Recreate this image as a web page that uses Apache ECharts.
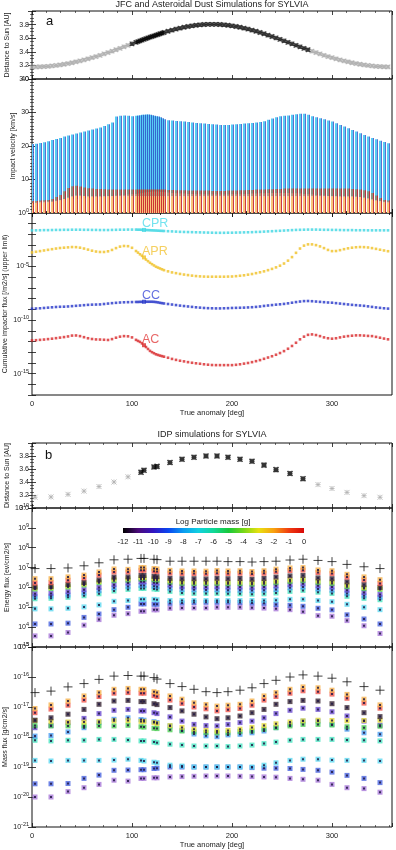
<!DOCTYPE html>
<html><head><meta charset="utf-8">
<script src="https://cdn.jsdelivr.net/npm/echarts@6/dist/echarts.min.js"></script>
<style>html,body{margin:0;padding:0;background:#fff}#c{width:396px;height:850px}</style>
</head><body><div id="c"></div>
<script>
// ---------------- DATA: panel a (JFC & asteroidal dust) ----------------
const X_A = [0,4,8,12,16,20,24,28,32,36,40,44,48,52,56,60,64,68,72,76,80,84,88,92,96,100,104,
  106,108,110,112,114,116,118,120,122,124,126,128,130,132,
  136,140,144,148,152,156,160,164,168,172,176,180,184,188,192,196,200,204,208,212,216,220,224,228,232,236,240,244,248,252,256,260,264,268,272,276,280,284,288,292,296,300,304,308,312,316,320,324,328,332,336,340,344,348,352,356];
const DIST_A = [3.176,3.177,3.179,3.182,3.186,3.192,3.199,3.207,3.217,3.227,3.239,3.252,3.265,3.280,3.296,3.313,3.330,3.349,3.368,3.388,3.409,3.430,3.451,3.473,3.495,3.517,3.539,
  3.550,3.561,3.572,3.583,3.594,3.604,3.615,3.625,3.635,3.645,3.655,3.665,3.675,3.684,
  3.702,3.718,3.734,3.748,3.761,3.772,3.782,3.790,3.796,3.801,3.804,3.804,3.804,3.801,3.796,3.790,3.782,3.772,3.761,3.748,3.734,3.718,3.702,3.684,3.665,3.645,3.625,3.604,3.583,3.561,3.539,3.517,3.495,3.473,3.451,3.430,3.409,3.388,3.368,3.349,3.330,3.313,3.296,3.280,3.265,3.252,3.239,3.227,3.217,3.207,3.199,3.192,3.186,3.182,3.179,3.177];
const OBS_A = [100, 276];   // anomaly range drawn in black
// impact velocity [km/s]
const VEL_C_TOP = [20.6,20.7,20.9,21.1,21.4,21.8,22.1,22.4,22.8,23.1,23.4,23.7,24.0,24.3,24.6,24.9,25.2,25.5,26.0,26.5,27.0,28.8,29.0,29.1,29.0,28.9,29.0,
  29.1,29.2,29.3,29.3,29.4,29.4,29.3,29.2,29.0,28.9,28.8,28.6,28.3,28.0,
  27.7,27.6,27.5,27.4,27.3,27.2,27.0,26.9,26.8,26.7,26.6,26.5,26.4,26.3,26.3,26.3,26.4,26.5,26.6,26.7,26.8,26.9,27.0,27.2,27.4,27.8,28.2,28.6,28.9,29.0,29.1,29.3,29.5,29.6,29.6,29.3,28.9,28.6,28.3,28.0,27.6,27.3,26.8,26.3,25.8,25.3,24.8,24.3,23.8,23.3,22.8,22.4,22.0,21.6,21.2,20.8];
const VEL_C_LOW = [3.4,3.4,3.4,3.5,3.5,3.6,3.7,3.8,3.9,4.0,4.1,4.2,4.3,4.4,4.5,4.6,4.7,4.8,4.9,5.0,5.1,5.2,5.3,5.4,5.5,5.6,5.7,
  5.8,5.9,6.0,6.1,6.2,6.3,6.3,6.4,6.4,6.4,6.4,6.3,6.3,6.2,
  6.1,6.0,5.9,5.8,5.8,5.7,5.7,5.6,5.6,5.6,5.5,5.5,5.5,5.5,5.5,5.5,5.6,5.6,5.6,5.7,5.7,5.8,5.8,5.9,5.9,6.0,6.0,6.0,6.0,6.0,6.0,5.9,5.9,5.8,5.7,5.6,5.5,5.4,5.3,5.2,5.1,5.0,4.9,4.8,4.6,4.4,4.2,4.0,3.9,3.8,3.7,3.6,3.5,3.5,3.4,3.4];
const VEL_APR_TOP = [3.0,3.0,3.1,3.1,3.2,3.3,3.5,3.8,4.2,4.6,5.0,5.2,5.2,5.1,5.0,5.0,5.0,5.0,5.0,5.0,5.0,5.0,5.0,5.0,5.0,5.0,5.0,
  5.0,5.0,5.0,5.0,5.0,5.0,5.0,5.0,5.0,5.0,5.0,5.0,5.0,5.0,
  5.0,5.0,5.0,5.0,5.0,5.0,5.0,5.0,5.0,5.0,5.0,5.0,5.0,5.0,5.0,5.0,5.0,5.0,5.0,5.0,5.0,5.0,5.0,5.0,5.0,5.0,5.0,5.0,5.0,5.0,5.0,5.0,5.0,5.0,5.0,5.0,5.0,5.0,5.0,5.0,5.0,5.0,5.0,5.0,5.0,5.0,5.0,4.9,4.8,4.6,4.4,4.1,3.8,3.5,3.2,3.1];
const VEL_AC_TOP = [3.6,3.6,3.7,3.8,3.9,4.2,4.8,5.4,6.5,7.5,8.0,8.1,7.9,7.6,7.4,7.3,7.2,7.2,7.1,7.0,7.0,7.0,7.0,7.0,7.0,7.0,7.0,
  7.0,7.0,7.0,7.0,7.0,7.0,7.0,7.0,7.0,7.0,7.0,7.0,7.0,7.0,
  6.9,6.9,6.8,6.8,6.8,6.7,6.7,6.7,6.7,6.7,6.7,6.6,6.6,6.6,6.6,6.7,6.7,6.7,6.8,6.8,6.9,6.9,7.0,7.0,7.0,7.1,7.1,7.2,7.2,7.3,7.3,7.3,7.3,7.3,7.3,7.3,7.3,7.3,7.3,7.3,7.3,7.3,7.3,7.3,7.3,7.3,7.2,7.1,7.0,6.8,6.5,6.0,5.2,4.5,3.9,3.7];
// cumulative impactor flux, log10 [/m2/s]
const FLUX_CPR = [-1.62,-1.62,-1.61,-1.60,-1.60,-1.59,-1.58,-1.58,-1.57,-1.57,-1.56,-1.56,-1.56,-1.57,-1.57,-1.58,-1.58,-1.59,-1.59,-1.59,-1.58,-1.57,-1.56,-1.56,-1.55,-1.55,-1.55,
  -1.56,-1.56,-1.57,-1.58,-1.59,-1.60,-1.61,-1.62,-1.63,-1.64,-1.65,-1.66,-1.67,-1.68,
  -1.70,-1.72,-1.74,-1.76,-1.77,-1.78,-1.79,-1.80,-1.81,-1.82,-1.83,-1.84,-1.85,-1.85,-1.85,-1.84,-1.84,-1.83,-1.82,-1.81,-1.80,-1.79,-1.77,-1.76,-1.74,-1.72,-1.70,-1.68,-1.66,-1.64,-1.62,-1.60,-1.58,-1.57,-1.56,-1.55,-1.55,-1.55,-1.56,-1.57,-1.57,-1.58,-1.58,-1.59,-1.60,-1.60,-1.60,-1.61,-1.61,-1.61,-1.62,-1.62,-1.62,-1.62,-1.62,-1.62];
const FLUX_APR = [-3.68,-3.62,-3.56,-3.50,-3.44,-3.38,-3.32,-3.27,-3.24,-3.21,-3.18,-3.19,-3.24,-3.32,-3.42,-3.52,-3.60,-3.64,-3.64,-3.58,-3.45,-3.28,-3.14,-3.08,-3.10,-3.25,-3.55,
  -3.70,-3.86,-4.00,-4.15,-4.35,-4.50,-4.65,-4.78,-4.90,-5.02,-5.10,-5.18,-5.26,-5.34,
  -5.45,-5.55,-5.62,-5.69,-5.75,-5.80,-5.85,-5.89,-5.92,-5.94,-5.95,-5.95,-5.95,-5.95,-5.95,-5.94,-5.93,-5.90,-5.86,-5.82,-5.76,-5.70,-5.62,-5.54,-5.45,-5.34,-5.22,-5.08,-4.92,-4.72,-4.45,-4.12,-3.72,-3.32,-3.05,-2.93,-2.93,-3.00,-3.12,-3.28,-3.45,-3.56,-3.55,-3.47,-3.38,-3.30,-3.24,-3.20,-3.18,-3.19,-3.22,-3.28,-3.35,-3.43,-3.50,-3.57];
const FLUX_CC = [-8.94,-8.92,-8.90,-8.87,-8.84,-8.81,-8.78,-8.76,-8.75,-8.73,-8.70,-8.67,-8.64,-8.61,-8.58,-8.56,-8.55,-8.54,-8.50,-8.46,-8.42,-8.39,-8.36,-8.34,-8.33,-8.32,-8.31,
  -8.31,-8.30,-8.30,-8.29,-8.29,-8.29,-8.29,-8.29,-8.30,-8.32,-8.35,-8.39,-8.42,-8.45,
  -8.50,-8.55,-8.60,-8.65,-8.69,-8.73,-8.77,-8.81,-8.84,-8.87,-8.89,-8.90,-8.91,-8.91,-8.90,-8.89,-8.87,-8.86,-8.85,-8.84,-8.82,-8.80,-8.77,-8.73,-8.68,-8.64,-8.60,-8.56,-8.53,-8.49,-8.44,-8.38,-8.32,-8.27,-8.23,-8.22,-8.24,-8.27,-8.30,-8.33,-8.36,-8.38,-8.42,-8.46,-8.50,-8.54,-8.58,-8.61,-8.64,-8.67,-8.72,-8.77,-8.82,-8.86,-8.90,-8.93];
const FLUX_AC = [-11.90,-11.88,-11.85,-11.82,-11.78,-11.74,-11.69,-11.64,-11.59,-11.53,-11.45,-11.44,-11.50,-11.60,-11.70,-11.77,-11.81,-11.82,-11.84,-11.86,-11.78,-11.65,-11.55,-11.50,-11.52,-11.62,-11.85,
  -11.95,-12.04,-12.18,-12.35,-12.52,-12.70,-12.88,-13.00,-13.10,-13.20,-13.26,-13.32,-13.37,-13.42,
  -13.52,-13.63,-13.72,-13.80,-13.86,-13.93,-13.99,-14.04,-14.08,-14.13,-14.17,-14.20,-14.21,-14.21,-14.21,-14.21,-14.21,-14.18,-14.13,-14.07,-14.01,-13.93,-13.84,-13.74,-13.62,-13.50,-13.38,-13.24,-13.08,-12.90,-12.68,-12.42,-12.12,-11.80,-11.55,-11.38,-11.34,-11.40,-11.50,-11.62,-11.70,-11.74,-11.70,-11.62,-11.55,-11.50,-11.46,-11.43,-11.43,-11.45,-11.48,-11.50,-11.57,-11.65,-11.73,-11.80];
const FLUX_NAMES = ['CPR','APR','CC','AC'];
const LABEL_AT = 112;

// ---------------- DATA: panel b (IDP) ----------------
const X_B = [3,19,36,52,67,82,96,109,112,122,125,138,150,162,174,185,196,208,220,232,244,258,271,286,300,315,332,348];
const DIST_B = [3.165,3.17,3.21,3.26,3.33,3.40,3.48,3.55,3.58,3.63,3.64,3.70,3.75,3.78,3.80,3.80,3.78,3.75,3.72,3.66,3.59,3.53,3.45,3.36,3.30,3.24,3.19,3.165];
const OBS_B = [105, 275];
// energy flux, log10 [eV/cm2/s]
const E_TOTAL  = [6.95,6.95,6.98,7.09,7.24,7.39,7.42,7.46,7.46,7.42,7.40,7.32,7.32,7.32,7.32,7.32,7.30,7.30,7.28,7.30,7.32,7.38,7.42,7.36,7.30,7.16,7.04,6.95];
const E_ORANGE = [6.44,6.44,6.53,6.62,6.78,6.93,6.91,7.00,7.00,6.95,6.93,6.86,6.83,6.83,6.82,6.85,6.83,6.84,6.80,6.84,6.92,6.98,7.00,6.88,6.84,6.66,6.53,6.39];
const E_RED    = [6.22,6.24,6.36,6.48,6.62,6.78,6.78,6.86,6.86,6.82,6.80,6.72,6.70,6.70,6.69,6.72,6.70,6.71,6.67,6.71,6.79,6.85,6.87,6.75,6.70,6.52,6.38,6.20];
const E_BLACK  = [6.02,6.05,6.15,6.25,6.38,6.52,6.53,6.60,6.60,6.56,6.54,6.46,6.44,6.44,6.43,6.46,6.44,6.45,6.41,6.45,6.52,6.58,6.60,6.48,6.44,6.28,6.14,6.00];
const E_YELLOW = [5.98,6.00,6.08,6.18,6.30,6.42,6.44,6.50,6.50,6.46,6.44,6.34,6.28,6.27,6.27,6.28,6.26,6.27,6.24,6.27,6.32,6.38,6.42,6.32,6.28,6.12,6.00,5.96];
const E_GREEN  = [5.92,5.94,6.02,6.12,6.24,6.34,6.36,6.42,6.42,6.38,6.36,6.26,6.20,6.19,6.19,6.20,6.18,6.19,6.16,6.19,6.24,6.30,6.34,6.24,6.20,6.04,5.94,5.90];
const E_INDIGO = [5.68,5.70,5.78,5.88,6.00,6.14,6.22,6.28,6.28,6.24,6.22,6.12,6.04,6.02,6.02,6.04,6.02,6.02,6.00,6.02,6.08,6.14,6.18,6.08,6.02,5.86,5.74,5.65];
const E_SKY    = [5.54,5.56,5.62,5.72,5.84,5.98,6.05,6.10,6.10,6.06,6.04,5.96,5.90,5.88,5.87,5.88,5.86,5.86,5.84,5.86,5.90,5.98,6.02,5.92,5.86,5.70,5.58,5.50];
const E_TEAL   = [5.43,5.45,5.50,5.58,5.68,5.82,5.90,5.95,5.95,5.92,5.90,5.80,5.72,5.70,5.70,5.70,5.68,5.68,5.66,5.68,5.72,5.80,5.85,5.76,5.70,5.55,5.45,5.38];
const E_CYAN   = [4.92,4.92,4.95,5.02,5.12,5.30,5.34,5.40,5.40,5.40,5.38,5.34,5.34,5.34,5.34,5.34,5.34,5.34,5.34,5.34,5.36,5.40,5.40,5.34,5.28,5.15,5.00,4.88];
const E_BLUE   = [4.16,4.16,4.20,4.49,4.66,4.88,5.00,5.17,5.17,5.15,5.15,5.20,5.22,5.24,5.25,5.25,5.25,5.24,5.22,5.20,5.14,5.10,5.05,4.95,4.87,4.62,4.41,4.16];
const E_PURPLE = [3.56,3.56,3.73,4.10,4.38,4.60,4.68,4.80,4.80,4.87,4.87,4.95,4.97,4.97,4.97,5.00,5.00,5.00,4.98,4.96,4.92,4.88,4.78,4.58,4.55,4.33,4.07,3.68];
// mass flux, log10 [g/cm2/s]
const M_TOTAL  = [-16.52,-16.47,-16.33,-16.22,-16.08,-15.97,-15.95,-15.97,-15.97,-16.02,-16.07,-16.22,-16.32,-16.41,-16.49,-16.52,-16.49,-16.44,-16.36,-16.22,-16.11,-16.00,-15.93,-15.97,-16.04,-16.16,-16.32,-16.44];
const M_ORANGE = [-17.05,-16.93,-16.80,-16.63,-16.52,-16.41,-16.38,-16.41,-16.41,-16.49,-16.52,-16.63,-16.74,-16.86,-16.92,-16.97,-16.94,-16.91,-16.80,-16.63,-16.52,-16.41,-16.33,-16.36,-16.44,-16.58,-16.74,-16.93];
const M_RED    = [-17.19,-17.07,-16.94,-16.77,-16.65,-16.54,-16.52,-16.54,-16.54,-16.62,-16.65,-16.77,-16.88,-17.00,-17.06,-17.13,-17.09,-17.05,-16.94,-16.77,-16.65,-16.54,-16.46,-16.49,-16.57,-16.71,-16.87,-17.04];
const M_BLACK  = [-17.44,-17.36,-17.24,-17.08,-16.91,-16.80,-16.78,-16.82,-16.82,-16.89,-16.92,-17.02,-17.13,-17.24,-17.33,-17.39,-17.36,-17.30,-17.19,-17.08,-16.91,-16.82,-16.78,-16.80,-16.89,-17.02,-17.19,-17.32];
const M_YELLOW = [-17.45,-17.48,-17.50,-17.50,-17.48,-17.46,-17.45,-17.48,-17.48,-17.52,-17.55,-17.62,-17.68,-17.74,-17.78,-17.80,-17.78,-17.74,-17.68,-17.62,-17.56,-17.50,-17.46,-17.44,-17.45,-17.46,-17.45,-17.44];
const M_GREEN  = [-17.62,-17.63,-17.63,-17.63,-17.63,-17.63,-17.61,-17.66,-17.67,-17.71,-17.72,-17.76,-17.80,-17.83,-17.85,-17.86,-17.86,-17.82,-17.80,-17.74,-17.69,-17.63,-17.58,-17.58,-17.60,-17.66,-17.69,-17.64];
const M_INDIGO = [-17.69,-17.62,-17.52,-17.38,-17.22,-17.11,-17.08,-17.13,-17.13,-17.19,-17.22,-17.33,-17.47,-17.58,-17.62,-17.63,-17.58,-17.52,-17.47,-17.36,-17.22,-17.11,-17.04,-17.08,-17.16,-17.30,-17.47,-17.61];
const M_SKY    = [-17.97,-17.95,-17.83,-17.69,-17.52,-17.41,-17.36,-17.42,-17.44,-17.49,-17.52,-17.63,-17.78,-17.90,-17.96,-17.99,-17.93,-17.91,-17.86,-17.80,-17.69,-17.58,-17.47,-17.47,-17.58,-17.74,-17.86,-17.91];
const M_TEAL   = [-18.11,-18.13,-18.11,-18.11,-18.08,-18.08,-18.10,-18.13,-18.13,-18.17,-18.19,-18.24,-18.27,-18.30,-18.30,-18.30,-18.32,-18.30,-18.27,-18.22,-18.17,-18.11,-18.08,-18.08,-18.08,-18.10,-18.11,-18.13];
const M_CYAN   = [-18.78,-18.80,-18.78,-18.78,-18.78,-18.77,-18.74,-18.78,-18.80,-18.84,-18.86,-18.94,-18.97,-19.00,-19.00,-19.00,-19.00,-19.00,-19.00,-18.94,-18.86,-18.78,-18.74,-18.74,-18.77,-18.78,-18.78,-18.80];
const M_BLUE   = [-19.56,-19.56,-19.55,-19.38,-19.27,-19.11,-19.10,-19.09,-19.09,-19.05,-19.04,-19.00,-19.00,-19.00,-19.00,-19.00,-19.00,-19.00,-19.02,-19.04,-19.04,-19.05,-19.08,-19.11,-19.17,-19.28,-19.38,-19.52];
const M_PURPLE = [-20.00,-20.00,-19.82,-19.69,-19.58,-19.44,-19.47,-19.38,-19.38,-19.36,-19.36,-19.33,-19.32,-19.31,-19.30,-19.30,-19.30,-19.31,-19.32,-19.33,-19.34,-19.38,-19.41,-19.44,-19.58,-19.69,-19.72,-19.84];
// colour-bar tick labels (log particle mass)
const CB_TICKS = [-12,-11,-10,-9,-8,-7,-6,-5,-4,-3,-2,-1,0];

// ---------------- STYLE ----------------
const FF = 'Liberation Sans';
const TXT = '#222';
const CB_COLORS = ['#000000','#4a0a7a','#3214c0','#0a46f0','#0a9cf0','#10d0e0','#10d898','#18c83a','#78d818','#e8e010','#f8a010','#f03c10','#d80808'];
const BINS = [
  {E:E_PURPLE, M:M_PURPLE, c:'#a878d8'},
  {E:E_BLUE,   M:M_BLUE,   c:'#4a64e0'},
  {E:E_CYAN,   M:M_CYAN,   c:'#5cd8f0'},
  {E:E_TEAL,   M:M_TEAL,   c:'#48e4c0'},
  {E:E_SKY,    M:M_SKY,    c:'#4c9ef0'},
  {E:E_INDIGO, M:M_INDIGO, c:'#6c4cd0'},
  {E:E_GREEN,  M:M_GREEN,  c:'#4ccc54'},
  {E:E_YELLOW, M:M_YELLOW, c:'#e2da3c'},
  {E:E_BLACK,  M:M_BLACK,  c:'#3a2836'},
  {E:E_RED,    M:M_RED,    c:'#f0564c'},
  {E:E_ORANGE, M:M_ORANGE, c:'#f6b24c'}
];
const ASTER = 'path://M0,0L10,10M10,0L0,10M5,0L5,10M0,5L10,5';
const PLUS = 'path://M5,0L5,10M0,5L10,5';

const GRIDS = [
  {left:32, top:11,  width:360, height:68},
  {left:32, top:79,  width:360, height:134},
  {left:32, top:213, width:360, height:182},
  {left:32, top:443, width:360, height:65},
  {left:32, top:508, width:360, height:139},
  {left:32, top:647, width:360, height:180},
  {left:123, top:528, width:181, height:5}
];

function supLabel(v){ return '10{s|' + v + '}'; }
const RICH = {s:{fontSize:5.5, fontFamily:FF, color:TXT, padding:[0,0,5,0]}};

function xPair(g, showLabel, name, nameGap){
  const base = {gridIndex:g, type:'value', min:0, max:360, interval:100,
    axisLine:{show:false}, splitLine:{show:false}, nameMoveOverlap:false,
    axisTick:{show:true, inside:true, length:4, lineStyle:{color:'#111', width:0.8}},
    minorTick:{show:true, splitNumber:7, length:2, lineStyle:{color:'#111', width:0.6}}};
  return [
    Object.assign({}, base, {position:'bottom',
      axisLabel:{show:showLabel, fontSize:7.5, color:TXT, margin:5, fontFamily:FF, formatter:v => v >= 360 ? '' : String(v)},
      name:name || '', nameLocation:'middle', nameGap:nameGap || 0,
      nameTextStyle:{fontSize:7.5, color:TXT, fontFamily:FF}}),
    Object.assign({}, base, {position:'top', axisLabel:{show:false}})
  ];
}
function yPair(g, o){
  const base = {gridIndex:g, type:'value', min:o.min, max:o.max, interval:o.interval,
    axisLine:{show:false}, splitLine:{show:false}, nameMoveOverlap:false,
    axisTick:{show:true, inside:true, length:4, lineStyle:{color:'#111', width:0.8}},
    minorTick:{show:!!o.minor, splitNumber:o.minor || 5, length:2, lineStyle:{color:'#111', width:0.6}}};
  return [
    Object.assign({}, base, {position:'left',
      axisLabel:{show:true, fontSize:7, color:TXT, margin:3, fontFamily:FF, formatter:o.fmt, rich:RICH},
      name:o.name, nameLocation:'middle', nameGap:o.nameGap,
      nameTextStyle:{fontSize:7, color:TXT, fontFamily:FF}}),
    Object.assign({}, base, {position:'right', axisLabel:{show:false}})
  ];
}

const xAxis = [].concat(
  xPair(0, false), xPair(1, false), xPair(2, true, 'True anomaly [deg]', 14),
  xPair(3, false), xPair(4, false), xPair(5, true, 'True anomaly [deg]', 14),
  [{gridIndex:6, type:'value', min:-12, max:0, interval:1, position:'bottom',
    axisLine:{show:false}, axisTick:{show:false}, splitLine:{show:false},
    axisLabel:{fontSize:7.5, color:TXT, margin:5, fontFamily:FF, formatter:v => CB_TICKS.indexOf(v) >= 0 ? String(v) : ''}}]
);
const distFmt = v => v > 3.95 ? '' : v.toFixed(1);
const yAxis = [].concat(
  yPair(0, {min:3.0, max:4.0, interval:0.2, minor:4, fmt:distFmt, name:'Distance to Sun [AU]', nameGap:21}),
  yPair(1, {min:0, max:40, interval:10, minor:10, fmt:v => v === 0 ? '' : String(v), name:'Impact velocity [km/s]', nameGap:15}),
  yPair(2, {min:-17, max:0, interval:1, fmt:v => (v % 5 === 0) ? supLabel(v) : '', name:'Cumulative impactor flux [/m2/s] (upper limit)', nameGap:23}),
  yPair(3, {min:3.0, max:4.0, interval:0.2, minor:4, fmt:distFmt, name:'Distance to Sun [AU]', nameGap:21}),
  yPair(4, {min:3, max:10, interval:1, fmt:v => supLabel(v), name:'Energy flux [ev/cm2/s]', nameGap:21}),
  yPair(5, {min:-21, max:-15, interval:1, fmt:v => supLabel(v), name:'Mass flux [g/cm2/s]', nameGap:23}),
  [{gridIndex:6, type:'value', min:0, max:1, show:false}]
);

const series = [];
// ---- panel a: distance
function distSeries(xs, ds, range, inside, gi, size, color, bw){
  const data = [];
  xs.forEach((x, i) => { const inR = x >= range[0] && x <= range[1]; if (inR === inside) data.push([x, ds[i]]); });
  return {type:'scatter', xAxisIndex:gi*2, yAxisIndex:gi*2, symbol:ASTER, symbolSize:size, data,
    itemStyle:{color:'none', borderColor:color, borderWidth:bw}, silent:true};
}
series.push(distSeries(X_A, DIST_A, OBS_A, false, 0, 4.5, '#a0a0a0', 1.1));
series.push(distSeries(X_A, DIST_A, OBS_A, true, 0, 4.5, '#000', 1.2));

// ---- panel a: impact velocity ranges
const ZERO = X_A.map(() => 0);
function rangeBars(lo, hi, color, w, off, op){
  return {type:'custom', xAxisIndex:2, yAxisIndex:2, clip:true, silent:true,
    data: X_A.map((x, i) => [x, lo[i], hi[i]]),
    encode:{x:0, y:[1,2]},
    renderItem:(p, api) => {
      const x = api.value(0), a = api.value(1), b = api.value(2);
      if (!(b > a)) return null;
      const p1 = api.coord([x, a]), p2 = api.coord([x, b]);
      return {type:'rect', shape:{x:Math.round(p1[0]) + off, y:p2[1], width:w, height:p1[1] - p2[1]},
        style:{fill:color, opacity:op}};
    }};
}
series.push(rangeBars(VEL_C_LOW, VEL_C_TOP, '#58ccf4', 2, -1, 1));
series.push(rangeBars(VEL_C_LOW, VEL_C_TOP, '#2e4cc4', 1, 1, 0.8));
series.push(rangeBars(ZERO, VEL_APR_TOP, '#f8c47a', 2, -1, 1));
series.push(rangeBars(VEL_APR_TOP, VEL_AC_TOP, '#9a8258', 2, -1, 0.75));
series.push(rangeBars(ZERO, VEL_AC_TOP, '#c8242e', 1, 1, 0.9));

// ---- panel a: cumulative flux
const FLUX = [FLUX_CPR, FLUX_APR, FLUX_CC, FLUX_AC];
const FLUX_COL = ['#3cd6e2', '#f0c024', '#2434c8', '#d8282a'];
const FLUX_LAB = ['#50dceb', '#f2c438', '#3c4ad8', '#e24040'];
FLUX.forEach((arr, k) => {
  series.push({type:'scatter', xAxisIndex:4, yAxisIndex:4, symbol:'rect', symbolSize:2.6, silent:true,
    itemStyle:{color:FLUX_COL[k]},
    data: X_A.map((x, i) => x === LABEL_AT ? {value:[x, arr[i]], symbolSize:4,
      label:{show:true, formatter:FLUX_NAMES[k], position:[0,-4], align:'left', verticalAlign:'middle',
        fontSize:12.5, color:FLUX_LAB[k], fontFamily:FF}} : [x, arr[i]])});
});

// ---- panel b: distance
series.push(distSeries(X_B, DIST_B, OBS_B, false, 3, 5, '#b0b0b0', 1));
series.push(distSeries(X_B, DIST_B, OBS_B, true, 3, 5, '#000', 1.5));

// ---- panel b: energy & mass flux by mass bin
function binSeries(gi, key, total){
  BINS.forEach(b => {
    series.push({type:'scatter', xAxisIndex:gi*2, yAxisIndex:gi*2, symbol:'rect', symbolSize:5, silent:true,
      itemStyle:{color:b.c}, data: X_B.map((x, i) => [x, b[key][i]])});
  });
  const centers = [];
  BINS.forEach(b => X_B.forEach((x, i) => centers.push([x, b[key][i]])));
  series.push({type:'scatter', xAxisIndex:gi*2, yAxisIndex:gi*2, symbol:'rect', symbolSize:2, silent:true,
    itemStyle:{color:'#221a44', opacity:0.85}, data:centers});
  series.push({type:'scatter', xAxisIndex:gi*2, yAxisIndex:gi*2, symbol:PLUS, symbolSize:9, silent:true,
    itemStyle:{color:'none', borderColor:'#111', borderWidth:1}, data: X_B.map((x, i) => [x, total[i]])});
}
binSeries(4, 'E', E_TOTAL);
binSeries(5, 'M', M_TOTAL);

const cbG = GRIDS[6];
const option = {
  animation:false,
  backgroundColor:'#fff',
  textStyle:{fontFamily:FF},
  grid: GRIDS.map((g, i) => Object.assign({show:i < 6, borderColor:'#111', borderWidth:1, backgroundColor:'rgba(0,0,0,0)', containLabel:false, outerBoundsMode:'none'}, g)),
  xAxis, yAxis, series,
  graphic:[
    {type:'text', x:212, y:5, z:100, style:{text:'JFC and Asteroidal Dust Simulations for SYLVIA', font:'9px "Liberation Sans"', fill:TXT, align:'center', verticalAlign:'middle'}},
    {type:'text', x:212, y:435, z:100, style:{text:'IDP simulations for SYLVIA', font:'9px "Liberation Sans"', fill:TXT, align:'center', verticalAlign:'middle'}},
    {type:'text', x:46, y:21, z:100, style:{text:'a', font:'13px "Liberation Sans"', fill:'#111', align:'left', verticalAlign:'middle'}},
    {type:'text', x:45, y:455, z:100, style:{text:'b', font:'13px "Liberation Sans"', fill:'#111', align:'left', verticalAlign:'middle'}},
    {type:'text', x:213, y:522, z:100, style:{text:'Log Particle mass [g]', font:'8px "Liberation Sans"', fill:TXT, align:'center', verticalAlign:'middle'}},
    {type:'rect', z:100, shape:{x:cbG.left, y:cbG.top, width:cbG.width, height:cbG.height},
      style:{fill:new echarts.graphic.LinearGradient(0, 0, 1, 0,
        CB_COLORS.map((c, i) => ({offset:i / (CB_COLORS.length - 1), color:c})))}}
  ]
};
const chart = echarts.init(document.getElementById('c'), null, {width:396, height:850});
chart.setOption(option);
</script></body></html>
